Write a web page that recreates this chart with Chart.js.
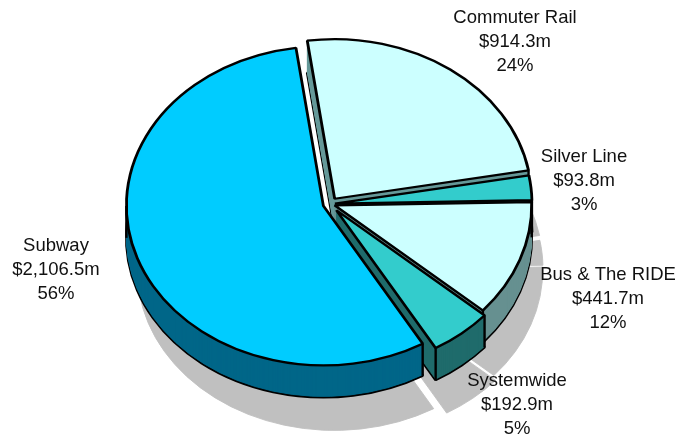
<!DOCTYPE html>
<html>
<head>
<meta charset="utf-8">
<style>
  html, body { margin: 0; padding: 0; background: #fff; }
  #wrap { width: 675px; height: 439px; }
</style>
<script src="https://cdn.jsdelivr.net/npm/chart.js@4/dist/chart.umd.js"></script>
</head>
<body>
<div id="wrap"><canvas id="pie" width="675" height="439"></canvas></div>
<script>
const categories = ['Commuter Rail', 'Silver Line', 'Bus & The RIDE', 'Systemwide', 'Subway'];
const amounts = [914.3, 93.8, 441.7, 192.9, 2106.5];
const amountLabels = ['$914.3m', '$93.8m', '$441.7m', '$192.9m', '$2,106.5m'];
const shareLabels = ['24%', '3%', '12%', '5%', '56%'];
const topColors = ['#CCFFFF', '#33CCCC', '#CCFFFF', '#33CCCC', '#00CCFF'];
const sideColors = ['#669999', '#1A6F6F', '#669090', '#1F6B6B', '#006688'];
const explode = [8, 5, 5, 10, 7];
const labelX = [515, 584, 608, 517, 56];
const labelY = [18, 157, 275, 381, 246];

const squash = 0.81;
const depth = 32;
const shadow = { x: 11, y: 65 };

// draws an arc element squashed into an ellipse, moved by dx/dy on screen
function drawFace(ctx, arc, i, dx, dy, fill, stroke, width) {
  const saved = arc.options;
  arc.options = Object.assign({}, saved, {
    backgroundColor: fill, borderColor: stroke, borderWidth: width,
    borderAlign: 'center', offset: 0
  });
  const mid = (arc.startAngle + arc.endAngle) / 2;
  ctx.save();
  ctx.translate(arc.x + dx + Math.cos(mid) * explode[i], arc.y + dy + Math.sin(mid) * explode[i] * squash);
  ctx.scale(1, squash);
  ctx.translate(-arc.x, -arc.y);
  arc.draw(ctx);
  ctx.restore();
  arc.options = saved;
}

function rimEdge(ctx, arc, i, angle) {
  const mid = (arc.startAngle + arc.endAngle) / 2;
  const x = arc.x + Math.cos(mid) * explode[i] + Math.cos(angle) * arc.outerRadius;
  const y = arc.y + (Math.sin(mid) * explode[i] + Math.sin(angle) * arc.outerRadius) * squash;
  ctx.beginPath();
  ctx.moveTo(x, y);
  ctx.lineTo(x, y + depth);
  ctx.lineWidth = 2.4;
  ctx.strokeStyle = '#000';
  ctx.stroke();
}

const piePlugin = {
  id: 'pie3d',
  beforeDatasetsDraw(chart) {
    const ctx = chart.ctx;
    const arcs = chart.getDatasetMeta(0).data;
    arcs.forEach((arc, i) => drawFace(ctx, arc, i, shadow.x, shadow.y, '#C0C0C0', '#C0C0C0', 1));
    arcs.forEach((arc, i) => {
      drawFace(ctx, arc, i, 0, depth, sideColors[i], '#000', 2.8);
      for (let d = depth - 1; d > 0; d--) {
        drawFace(ctx, arc, i, 0, d, sideColors[i], sideColors[i], 1);
      }
      // edges that show on the near side of the rim
      [arc.startAngle, arc.endAngle, Math.PI, Math.PI * 2].forEach(a => {
        const inside = [a, a + Math.PI * 2, a - Math.PI * 2].some(t => t >= arc.startAngle - 1e-6 && t <= arc.endAngle + 1e-6);
        if (inside && Math.sin(a) > -0.2) rimEdge(ctx, arc, i, a);
      });
      drawFace(ctx, arc, i, 0, 0, topColors[i], '#000', 2.8);
    });
    return false;
  },
  afterDraw(chart) {
    const ctx = chart.ctx;
    ctx.save();
    ctx.fillStyle = '#111';
    ctx.textAlign = 'center';
    ctx.textBaseline = 'middle';
    ctx.font = '18.5px "Liberation Sans", Arial, sans-serif';
    categories.forEach((name, i) => {
      ctx.fillText(name, labelX[i], labelY[i]);
      ctx.fillText(amountLabels[i], labelX[i], labelY[i] + 24);
      ctx.fillText(shareLabels[i], labelX[i], labelY[i] + 48);
    });
    ctx.restore();
  }
};

new Chart(document.getElementById('pie').getContext('2d'), {
  type: 'pie',
  data: {
    labels: categories,
    datasets: [{ data: amounts, backgroundColor: topColors, borderColor: '#000', borderWidth: 2 }]
  },
  options: {
    responsive: false,
    animation: false,
    rotation: -8,
    radius: 197,
    layout: { padding: { left: 0, right: 15, top: 0, bottom: 31 } },
    plugins: { legend: { display: false }, tooltip: { enabled: false } }
  },
  plugins: [piePlugin]
});
</script>
</body>
</html>
